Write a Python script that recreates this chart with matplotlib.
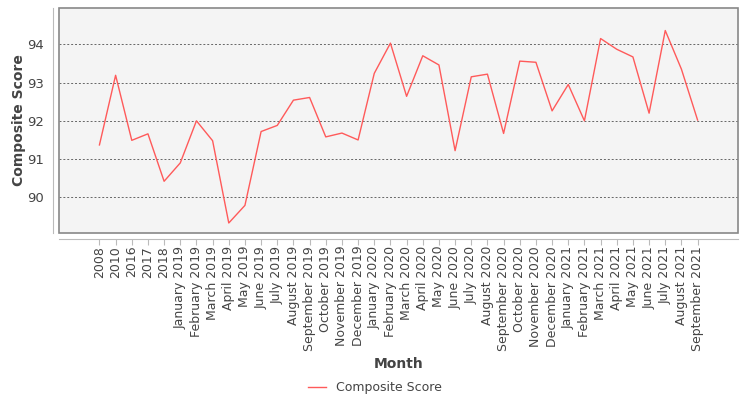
import matplotlib
matplotlib.use('Agg')
import matplotlib.pyplot as plt
from matplotlib.patches import Rectangle

# Data
months = ['2008', '2010', '2016', '2017', '2018',
          'January 2019', 'February 2019', 'March 2019', 'April 2019', 'May 2019',
          'June 2019', 'July 2019', 'August 2019', 'September 2019', 'October 2019',
          'November 2019', 'December 2019', 'January 2020', 'February 2020', 'March 2020',
          'April 2020', 'May 2020', 'June 2020', 'July 2020', 'August 2020',
          'September 2020', 'October 2020', 'November 2020', 'December 2020', 'January 2021',
          'February 2021', 'March 2021', 'April 2021', 'May 2021', 'June 2021',
          'July 2021', 'August 2021', 'September 2021']
composite_score = [91.37, 93.19, 91.49, 91.66, 90.42,
                   90.90, 92.00, 91.48, 89.33, 89.79,
                   91.72, 91.88, 92.54, 92.61, 91.58,
                   91.68, 91.50, 93.24, 94.03, 92.64,
                   93.70, 93.46, 91.22, 93.15, 93.22,
                   91.67, 93.56, 93.53, 92.26, 92.95,
                   92.00, 94.15, 93.87, 93.67, 92.20,
                   94.36, 93.35, 92.02]
y_ticks = [90, 91, 92, 93, 94]

text_color = '#444444'

fig = plt.figure(figsize=(7.5, 4), dpi=100)
ax = fig.add_axes([0.0787, 0.4167, 0.9053, 0.5625])
ax.set_facecolor('#f4f4f4')

x = list(range(len(months)))
line, = ax.plot(x, composite_score, color='#ff5a5a', linewidth=1, label='Composite Score')

ax.set_xlim(-2.5, len(months) - 1 + 2.5)
ax.set_ylim(89.06, 94.94)

ax.grid(axis='y', color='#666666', linestyle=(0, (2, 2)), linewidth=0.7)
ax.set_axisbelow(True)

# offset light axis lines plus a darker box around the plot area
for side in ['top', 'right']:
    ax.spines[side].set_visible(False)
for side in ['left', 'bottom']:
    ax.spines[side].set_position(('outward', 4))
    ax.spines[side].set_color('#bbbbbb')
ax.add_patch(Rectangle((0, 0), 1, 1, transform=ax.transAxes, fill=False,
                       edgecolor='#888888', linewidth=1.2, clip_on=False, zorder=5))
ax.tick_params(axis='x', length=4, color='#bbbbbb', pad=1, labelrotation=90,
               labelsize=9, labelcolor=text_color)
ax.tick_params(axis='y', length=0, pad=7, labelsize=9.5, labelcolor=text_color)

ax.set_xticks(x)
ax.set_xticklabels(months)
ax.set_yticks(y_ticks)
ax.set_yticklabels([str(v) for v in y_ticks])

fig.text(0.531, 0.09, 'Month', fontsize=10, fontweight='bold', color=text_color,
         ha='center', va='center')
fig.text(0.025, 0.699, 'Composite Score', fontsize=10, fontweight='bold', color=text_color,
         ha='center', va='center', rotation=90)

fig.legend(handles=[line], loc='center', bbox_to_anchor=(0.5, 0.03), frameon=False,
           fontsize=9, labelcolor=text_color, handlelength=1.5, borderpad=0)

fig.savefig('out.png', dpi=100)
